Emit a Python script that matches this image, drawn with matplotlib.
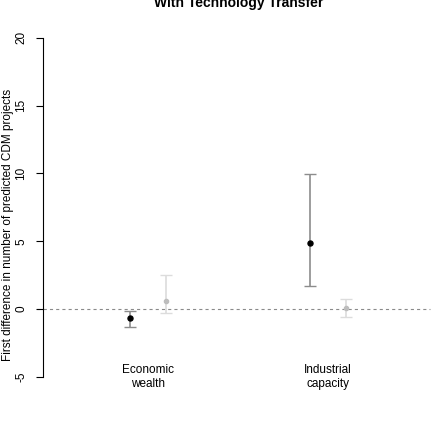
import matplotlib
matplotlib.use("Agg")
import matplotlib.pyplot as plt

plt.rcParams['font.family'] = ['Liberation Sans', 'DejaVu Sans']

categories = ["Economic\nwealth", "Industrial\ncapacity"]
# black series (first scenario)
est_a = [-0.64, 4.85]
lo_a = [-1.3, 1.74]
hi_a = [-0.17, 9.93]
# grey series (second scenario)
est_b = [0.57, 0.10]
lo_b = [-0.3, -0.59]
hi_b = [2.55, 0.76]
y_ticks = [-5, 0, 5, 10, 15, 20]

W, H = 436, 424
fig = plt.figure(figsize=(W / 100, H / 100), dpi=100)
ax = fig.add_axes([43 / W, 1 - 377 / H, (430 - 43) / W, (377 - 37.7) / H])

pos = [1, 2]
off = 0.1
xa = [p - off for p in pos]
xb = [p + off for p in pos]

ax.axhline(0, xmin=-0.016, xmax=1, color="#8a8a8a", lw=0.8,
           linestyle=(0, (2.8, 2.8)), clip_on=False, zorder=1)


def draw(xs, est, lo, hi, line_col, cap_col, pt_col, ms):
    yerr = [[e - l for e, l in zip(est, lo)], [h - e for e, h in zip(est, hi)]]
    _, caps, bars = ax.errorbar(xs, est, yerr=yerr, fmt="none", ecolor=line_col,
                                elinewidth=1.2, capsize=4, capthick=1.0, zorder=2)
    for c in caps:
        c.set_color(cap_col)
    ax.plot(xs, est, "o", color=pt_col, ms=ms, zorder=3)


draw(xa, est_a, lo_a, hi_a, "#8c8c8c", "#4a4a4a", "black", 3.6)
draw(xb, est_b, lo_b, hi_b, "#dcdcdc", "#cfcfcf", "#bdbdbd", 3.0)

ax.set_xlim(1 - 105 / 180, 2 + 102 / 180)
ax.set_ylim(-5, 20)
ax.set_yticks(y_ticks)
ax.set_yticklabels([str(t) for t in y_ticks], rotation=90, va="center")
ax.tick_params(axis="y", length=5, width=0.8, pad=6.5, labelsize=8.5)
ax.set_xticks([])
for s in ["top", "right", "bottom"]:
    ax.spines[s].set_visible(False)
ax.spines["left"].set_linewidth(0.8)

for p, lab in zip(pos, categories):
    ax.text(p, -5, lab, ha="center", va="center", fontsize=8.5,
            linespacing=1.15)

fig.text(8 / W, 1 - 225 / H, "First difference in number of predicted CDM projects",
         rotation=90, ha="center", va="center", fontsize=8.5)
fig.text(239 / W, 1 - 7 / H, "With Technology Transfer", ha="center",
         va="baseline", fontsize=10, fontweight="bold")

fig.savefig("out.png", dpi=100)
